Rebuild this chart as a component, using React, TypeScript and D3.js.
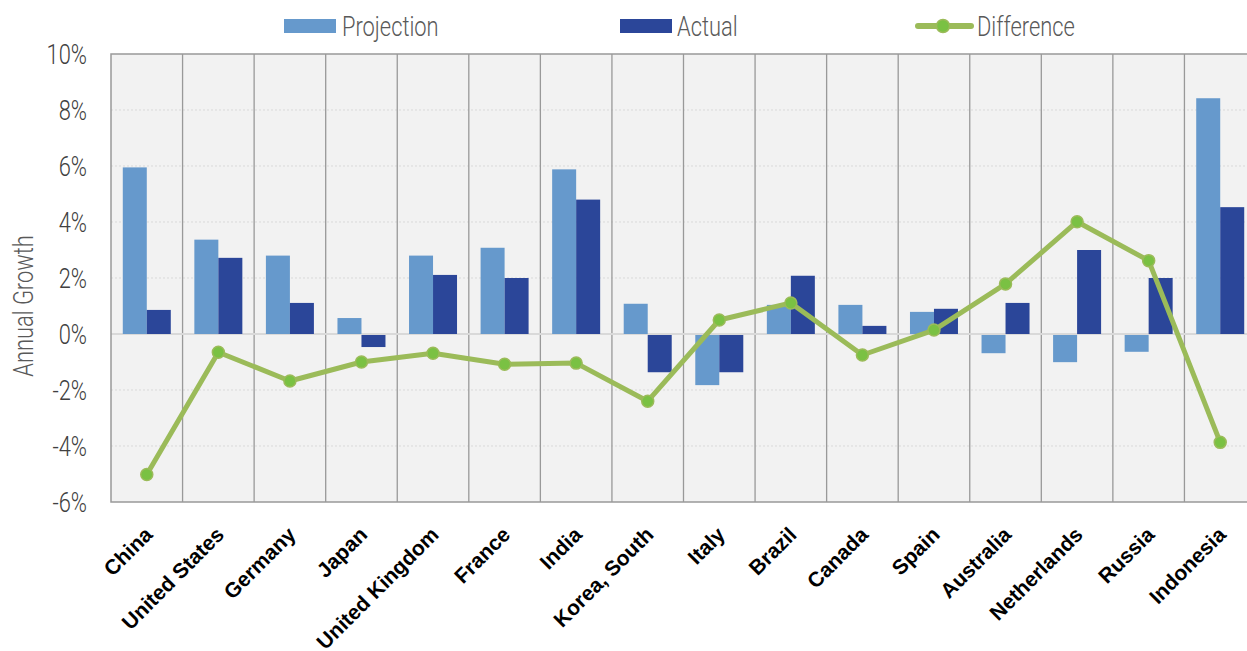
import React, { useEffect, useRef } from "react";
import * as d3 from "d3";

const categories = ["China","United States","Germany","Japan","United Kingdom","France","India","Korea, South","Italy","Brazil","Canada","Spain","Australia","Netherlands","Russia","Indonesia"];
const projection = [5.95,3.37,2.8,0.57,2.8,3.08,5.88,1.08,-1.79,1.04,1.04,0.79,-0.65,-0.97,-0.6,8.42];
const actual = [0.86,2.72,1.11,-0.43,2.11,2.0,4.8,-1.33,-1.33,2.08,0.29,0.9,1.11,3.0,2.0,4.53];
const difference = [-5.02,-0.65,-1.68,-1.0,-0.69,-1.08,-1.04,-2.4,0.5,1.11,-0.75,0.14,1.79,4.01,2.62,-3.87];
const yTicks = [-6,-4,-2,0,2,4,6,8,10];

const W = 1247, H = 651;
const M = { left: 111, right: 1256, top: 54, bottom: 502 };
const FONT = "Roboto, sans-serif";
const SX = 0.81;

export default function App() {
  const ref = useRef<SVGSVGElement>(null);
  useEffect(() => {
    const svg = d3.select(ref.current);
    svg.selectAll("*").remove();
    const x = d3.scaleBand<string>().domain(categories).range([M.left, M.right]).padding(0);
    const y = d3.scaleLinear().domain([-6, 10]).range([M.bottom, M.top]);
    const bw = 24;
    const cx = (d: string) => x(d)! + x.bandwidth() / 2;

    svg.append("rect").attr("x", M.left).attr("y", M.top).attr("width", W - M.left).attr("height", M.bottom - M.top).attr("fill", "#f2f2f2");

    svg.append("g").selectAll("line").data(yTicks.filter(t => t !== 0 && t !== 10 && t !== -6)).join("line")
      .attr("x1", M.left).attr("x2", W).attr("y1", d => y(d)).attr("y2", d => y(d))
      .attr("stroke", "#d9d9d9").attr("stroke-width", 1).attr("stroke-dasharray", "2,2");

    svg.append("g").selectAll("line").data(categories.slice(1)).join("line")
      .attr("x1", d => x(d)!).attr("x2", d => x(d)!).attr("y1", M.top).attr("y2", M.bottom)
      .attr("stroke", "#999").attr("stroke-width", 1.3);

    svg.append("line").attr("x1", M.left).attr("x2", W).attr("y1", y(0)).attr("y2", y(0)).attr("stroke", "#d9d9d9").attr("stroke-width", 2);

    svg.append("g").selectAll("rect").data(categories).join("rect")
      .attr("x", d => cx(d) - bw)
      .attr("width", bw)
      .attr("y", (d, i) => y(Math.max(0, projection[i])) + (projection[i] < 0 ? 1 : 0))
      .attr("height", (d, i) => Math.abs(y(projection[i]) - y(0)))
      .attr("fill", "#6699cc");
    svg.append("g").selectAll("rect").data(categories).join("rect")
      .attr("x", d => cx(d))
      .attr("width", bw)
      .attr("y", (d, i) => y(Math.max(0, actual[i])) + (actual[i] < 0 ? 1 : 0))
      .attr("height", (d, i) => Math.abs(y(actual[i]) - y(0)))
      .attr("fill", "#2b4699");

    svg.append("path").attr("d", `M${W},${M.top}H${M.left}V${M.bottom}H${W}`).attr("fill", "none").attr("stroke", "#999").attr("stroke-width", 1.5);

    const line = d3.line<number>().x((d, i) => cx(categories[i])).y(d => y(d));
    svg.append("path").datum(difference).attr("d", line).attr("fill", "none").attr("stroke", "#9bbb59").attr("stroke-width", 5).attr("stroke-linejoin", "round");
    svg.append("g").selectAll("circle").data(difference).join("circle")
      .attr("cx", (d, i) => cx(categories[i])).attr("cy", d => y(d)).attr("r", 6)
      .attr("fill", "#7ac143").attr("stroke", "#9bbb59").attr("stroke-width", 1.5);

    svg.append("g").selectAll("text").data(yTicks).join("text")
      .attr("transform", d => `translate(87,${y(d)}) scale(${SX},1)`).attr("dy", "0.36em").attr("text-anchor", "end")
      .attr("font-family", FONT).attr("font-weight", 300).attr("font-size", 27).attr("fill", "#404040")
      .text(d => `${d}%`);

    svg.append("text").attr("transform", `translate(33,306) rotate(-90) scale(${SX},1)`).attr("text-anchor", "middle")
      .attr("font-family", FONT).attr("font-weight", 300).attr("font-size", 27).attr("fill", "#595959").text("Annual Growth");

    svg.append("g").selectAll("text").data(categories).join("text")
      .attr("transform", d => `translate(${cx(d) + 7},${536}) rotate(-45)`)
      .attr("text-anchor", "end")
      .attr("font-family", "'Liberation Sans', Arial, sans-serif").attr("font-weight", "bold").attr("font-size", 21).attr("fill", "#000")
      .text(d => d);

    const lg = svg.append("g").attr("font-family", FONT).attr("font-weight", 300).attr("font-size", 27).attr("fill", "#595959");
    const lt = (xx: number, s: string) => lg.append("text").attr("transform", `translate(${xx},26) scale(${SX},1)`).attr("dy", "0.36em").text(s);
    lg.append("rect").attr("x", 284).attr("y", 19).attr("width", 52).attr("height", 14).attr("fill", "#6699cc");
    lt(342, "Projection");
    lg.append("rect").attr("x", 620).attr("y", 19).attr("width", 52).attr("height", 14).attr("fill", "#2b4699");
    lt(677, "Actual");
    lg.append("line").attr("x1", 918).attr("x2", 971).attr("y1", 26).attr("y2", 26).attr("stroke", "#9bbb59").attr("stroke-width", 6).attr("stroke-linecap", "round");
    lg.append("circle").attr("cx", 943).attr("cy", 26).attr("r", 6.5).attr("fill", "#7ac143").attr("stroke", "#9bbb59").attr("stroke-width", 1.5);
    lt(977, "Difference");
  }, []);
  return (
    <svg ref={ref} width={W} height={H} style={{ position: "absolute", left: 0, top: 0, background: "#fff" }} />
  );
}
